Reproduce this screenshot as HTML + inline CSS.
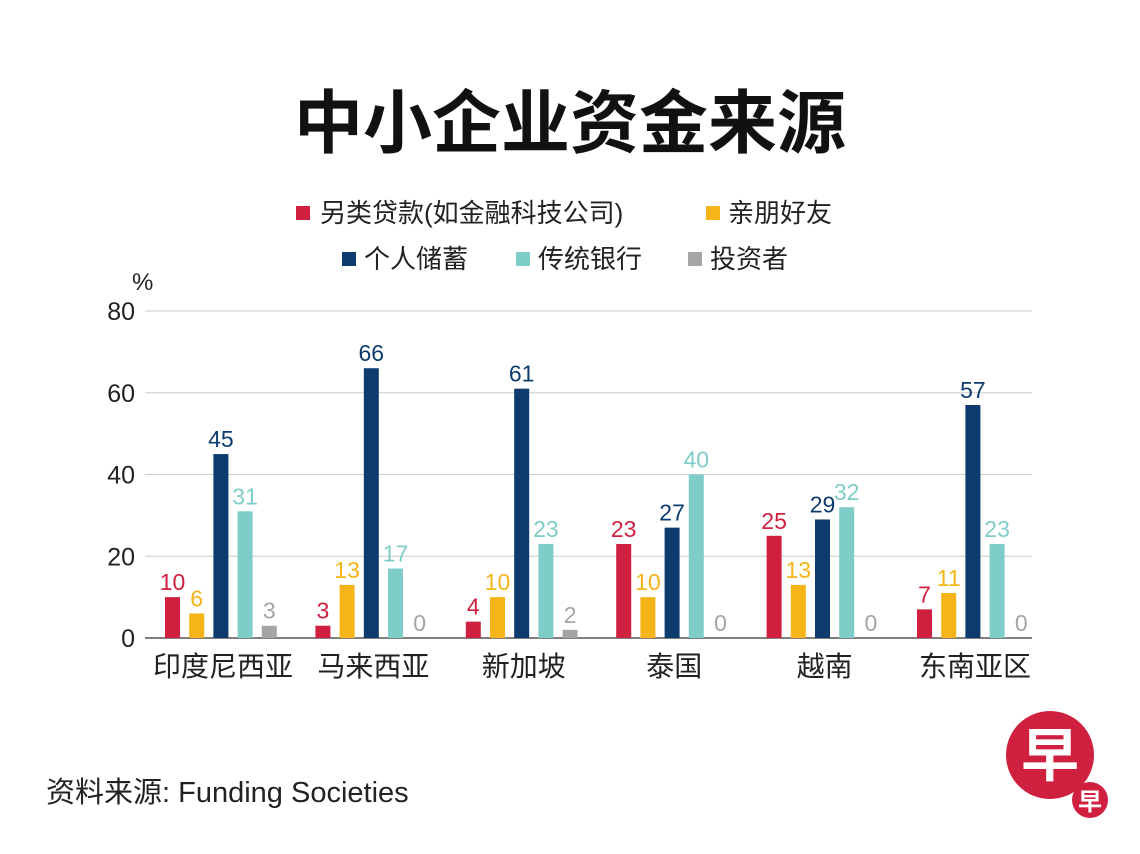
<!DOCTYPE html>
<html><head><meta charset="utf-8">
<style>
body{margin:0;background:#fff;}
svg text{font-family:"Liberation Sans","Noto Sans CJK SC",sans-serif;}
</style></head>
<body>
<svg id="chart" width="1140" height="849" viewBox="0 0 1140 849" xmlns="http://www.w3.org/2000/svg">
<rect width="1140" height="849" fill="#fff"/>
<text x="570" y="147" text-anchor="middle" font-size="69" font-weight="bold" fill="#111">中小企业资金来源</text>
<g font-size="26" fill="#222">
<rect x="296" y="206" width="14" height="14" fill="#d0203f"/>
<text x="320" y="222">另类贷款(如金融科技公司)</text>
<rect x="706" y="206" width="14" height="14" fill="#f5b417"/>
<text x="728" y="222">亲朋好友</text>
<rect x="342" y="252" width="14" height="14" fill="#0d3b6e"/>
<text x="364" y="268">个人储蓄</text>
<rect x="516" y="252" width="14" height="14" fill="#7fcdc8"/>
<text x="538" y="268">传统银行</text>
<rect x="688" y="252" width="14" height="14" fill="#a5a5a5"/>
<text x="710" y="268">投资者</text>
</g>
<text x="132" y="290" font-size="24" fill="#222">%</text>
<g id="grid"></g>
<g id="bars"></g>
<text x="46" y="802" font-size="29" fill="#222">资料来源: Funding Societies</text>
<g>
<circle cx="1050" cy="755" r="44" fill="#d0203f"/>
<text x="1050" y="776" text-anchor="middle" font-size="58" font-weight="bold" fill="#fff">早</text>
<circle cx="1090" cy="800" r="18" fill="#d0203f"/>
<text x="1090" y="810" text-anchor="middle" font-size="24" font-weight="bold" fill="#fff">早</text>
</g>
</svg>
<script>
const categories=["印度尼西亚","马来西亚","新加坡","泰国","越南","东南亚区"];
const altLoans=[10,3,4,23,25,7];
const friends=[6,13,10,10,13,11];
const savings=[45,66,61,27,29,57];
const banks=[31,17,23,40,32,23];
const investors=[3,0,2,0,0,0];
const yTicks=[0,20,40,60,80];

const NS="http://www.w3.org/2000/svg";
const series=[altLoans,friends,savings,banks,investors];
const colors=["#d0203f","#f5b417","#0d3b6e","#7fcdc8","#a5a5a5"];
const sNames=["alt-loans","friends","savings","banks","investors"];
const y0=638,yMax=80,plotH=327,left=145,right=1032;
function y(v){return y0-v/yMax*plotH;}
function gx(i){return 165+i*150.4;}
function mk(tag,attrs,parent){const e=document.createElementNS(NS,tag);for(const k in attrs)e.setAttribute(k,attrs[k]);parent.appendChild(e);return e;}
const grid=document.getElementById('grid'),bars=document.getElementById('bars');
yTicks.forEach(t=>{
  const l=mk('line',{x1:left,x2:right,y1:y(t),y2:y(t),stroke:t===0?'#555':'#ccc','stroke-width':t===0?1.5:1},grid);
  
  
  const tx=mk('text',{x:135,y:y(t)+9,'text-anchor':'end','font-size':25,fill:'#222'},grid);
  tx.textContent=t;
  
  
});
categories.forEach((c,i)=>{
  series.forEach((s,j)=>{
    const x=gx(i)+j*24.2,w=15,v=s[i];
    const r=mk('rect',{x:x,y:y(v),width:w,height:y0-y(v),fill:colors[j]},bars);
    
    
    const t=mk('text',{x:x+w/2,y:y(v)-7,'text-anchor':'middle','font-size':23,fill:v===0?'#a5a5a5':colors[j]},bars);
    t.textContent=v;
    
    
  });
  const lt=mk('text',{x:gx(i)+58,y:676,'text-anchor':'middle','font-size':28,fill:'#222'},bars);
  lt.textContent=c;
  
  
});
</script>
</body></html>
